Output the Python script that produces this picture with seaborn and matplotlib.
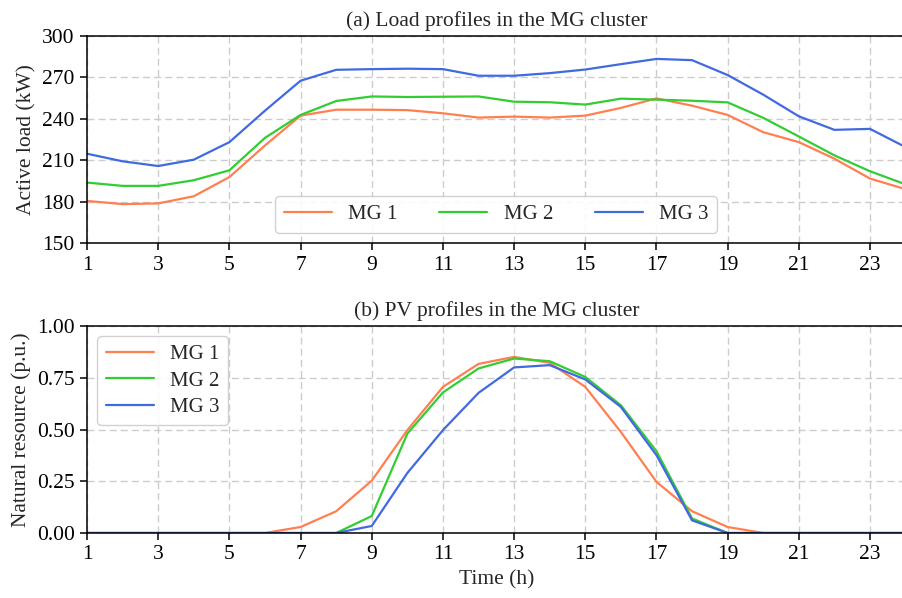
import matplotlib
matplotlib.use('Agg')
import numpy as np
import pandas as pd
import matplotlib.pyplot as plt
import seaborn as sns

# Datos
horas = list(range(1, 25))
grupos = ['MG 1', 'MG 2', 'MG 3']
colores = ['#FF7F50', '#32CD32', '#4169E1']

carga_mg1 = [180.5, 178.2, 178.7, 183.9, 197.8, 220.7, 242.3, 246.6, 246.6, 246.3, 244.0, 240.9,
             241.6, 240.9, 242.3, 247.9, 254.8, 249.5, 242.8, 230.3, 223.1, 211.1, 196.7, 189.0]
carga_mg2 = [193.8, 191.4, 191.4, 195.5, 202.7, 226.2, 242.8, 252.9, 256.2, 255.8, 256.0, 256.2,
             252.4, 252.0, 250.3, 254.6, 253.9, 253.1, 251.9, 240.7, 227.2, 213.5, 202.0, 192.5]
carga_mg3 = [214.7, 209.2, 205.8, 210.4, 223.1, 245.9, 267.6, 275.5, 276.0, 276.3, 276.0, 271.2,
             271.2, 273.1, 275.7, 279.6, 283.4, 282.5, 271.7, 257.5, 241.8, 232.0, 232.7, 219.5]

pv_mg1 = [0, 0, 0, 0, 0, 0, 0.029, 0.105, 0.253, 0.497, 0.706, 0.817,
          0.851, 0.822, 0.706, 0.488, 0.247, 0.105, 0.029, 0, 0, 0, 0, 0]
pv_mg2 = [0, 0, 0, 0, 0, 0, 0, 0, 0.082, 0.480, 0.679, 0.795,
          0.843, 0.830, 0.754, 0.617, 0.395, 0.070, 0, 0, 0, 0, 0, 0]
pv_mg3 = [0, 0, 0, 0, 0, 0, 0, 0, 0.034, 0.290, 0.497, 0.677,
          0.800, 0.811, 0.742, 0.609, 0.376, 0.061, 0, 0, 0, 0, 0, 0]

df_carga = pd.DataFrame({
    'hora': horas * 3,
    'valor': carga_mg1 + carga_mg2 + carga_mg3,
    'MG': np.repeat(grupos, len(horas)),
})
df_pv = pd.DataFrame({
    'hora': horas * 3,
    'valor': pv_mg1 + pv_mg2 + pv_mg3,
    'MG': np.repeat(grupos, len(horas)),
})

sns.set_theme(style="ticks")
plt.rcParams['font.family'] = ['Liberation Serif', 'DejaVu Serif']
plt.rcParams.update({'font.size': 15.5, 'axes.labelsize': 15.5, 'axes.titlesize': 15.5,
                     'xtick.labelsize': 15.5, 'ytick.labelsize': 15.5,
                     'axes.edgecolor': 'black', 'axes.linewidth': 1.1,
                     'xtick.color': 'black', 'ytick.color': 'black'})

fig = plt.figure(figsize=(9.02, 5.98), dpi=100)
ax1 = fig.add_axes([0.0965, 0.5936, 1.004 - 0.0965, 0.9398 - 0.5936])
ax2 = fig.add_axes([0.0965, 0.1087, 1.004 - 0.0965, 0.4548 - 0.1087])

paleta = dict(zip(grupos, colores))
sns.lineplot(data=df_carga, x='hora', y='valor', hue='MG', palette=paleta, linewidth=1.6, ax=ax1)
sns.lineplot(data=df_pv, x='hora', y='valor', hue='MG', palette=paleta, linewidth=1.6, ax=ax2)

for ax in (ax1, ax2):
    ax.set_xlim(1, 24)
    ax.set_xticks(range(1, 24, 2))
    ax.grid(True, linestyle=(0, (5, 3)), color='#cccccc', linewidth=1.0)
    ax.tick_params(direction='out', length=5, width=1.1, pad=4)

ax1.set_ylim(150, 300)
ax1.set_yticks(range(150, 301, 30))
ax1.set_title('(a) Load profiles in the MG cluster', pad=7)
ax1.set_xlabel('')
ax1.set_ylabel('Active load (kW)')
ax1.legend(loc='lower center', ncol=3, fontsize=15, handlelength=2.3, columnspacing=2.0,
           framealpha=0.9, edgecolor='#cccccc', fancybox=True)

ax2.set_ylim(0, 1)
ax2.set_yticks([0, 0.25, 0.5, 0.75, 1.0])
ax2.set_yticklabels(['0.00', '0.25', '0.50', '0.75', '1.00'])
ax2.set_title('(b) PV profiles in the MG cluster', pad=7)
ax2.set_xlabel('Time (h)')
ax2.set_ylabel('Natural resource (p.u.)')
ax2.legend(loc='upper left', fontsize=15, handlelength=2.3, labelspacing=0.32,
           framealpha=0.9, edgecolor='#cccccc', fancybox=True)

fig.savefig('out.png', dpi=100)
